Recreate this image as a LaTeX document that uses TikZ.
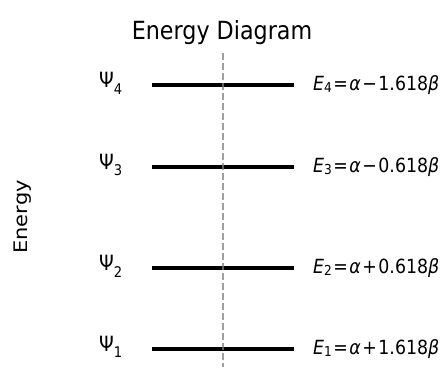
\documentclass[tikz,border=0pt]{standalone}
\usepackage{fontspec}
\setmainfont[FakeStretch=0.89]{DejaVu Sans}
\newfontfamily\plainfont{DejaVu Sans}
\usepackage{graphicx}
\newcommand{\esub}[1]{\raisebox{-0.1em}{\fontsize{13.7}{13.7}\selectfont #1}}
\newcommand{\psisub}[1]{\raisebox{-0.3em}{\fontsize{14.7}{14.7}\selectfont #1}}
\newcommand{\opsp}[1]{\hspace{1.5pt}#1\hspace{1.5pt}}
\begin{document}
\begin{tikzpicture}[x=1pt,y=-1pt,
  level/.style={line width=4pt},
  guide/.style={draw=gray, opacity=0.75, line width=1.5pt, dash pattern=on 7pt off 3pt},
  psilab/.style={anchor=base west, inner sep=0pt, font=\fontsize{21}{21}\selectfont},
  elab/.style={anchor=base west, inner sep=0pt, font=\fontsize{19.5}{19.5}\selectfont}]
\useasboundingbox (0,0) rectangle (441,371);

% energy levels
\foreach \i/\y in {1/348.5, 2/267.7, 3/166.7, 4/85}{
  \coordinate (l\i a) at (152,\y);
  \coordinate (l\i b) at (294,\y);
  \draw[level] (l\i a) -- (l\i b);
}

% guide line
\coordinate (gtop) at (223,53);
\coordinate (gbot) at (223,367);
\draw[guide] (gtop) -- (gbot);

% state labels
\node[psilab] (p4) at (99,88)    {Ψ\psisub{4}};
\node[psilab] (p3) at (99,169.7) {Ψ\psisub{3}};
\node[psilab] (p2) at (99,270.7) {Ψ\psisub{2}};
\node[psilab] (p1) at (99,351.5) {Ψ\psisub{1}};

% energy labels
\node[elab] (e4) at (313,91)    {\textit{E}\esub{4}\opsp{=}\textit{α}\opsp{−}1.618\textit{β}};
\node[elab] (e3) at (313,172.7) {\textit{E}\esub{3}\opsp{=}\textit{α}\opsp{−}0.618\textit{β}};
\node[elab] (e2) at (313,273.7) {\textit{E}\esub{2}\opsp{=}\textit{α}\opsp{+}0.618\textit{β}};
\node[elab] (e1) at (313,354.5) {\textit{E}\esub{1}\opsp{=}\textit{α}\opsp{+}1.618\textit{β}};

% title and axis label
\node[anchor=base, inner sep=0pt, font=\fontsize{25}{25}\selectfont] (title) at (222,40) {Energy Diagram};
\node[inner sep=0pt] (ylab) at (22.5,217) {\scalebox{0.89}[1]{\rotatebox{90}{\plainfont\fontsize{21}{21}\selectfont Energy}}};
\end{tikzpicture}
\end{document}
